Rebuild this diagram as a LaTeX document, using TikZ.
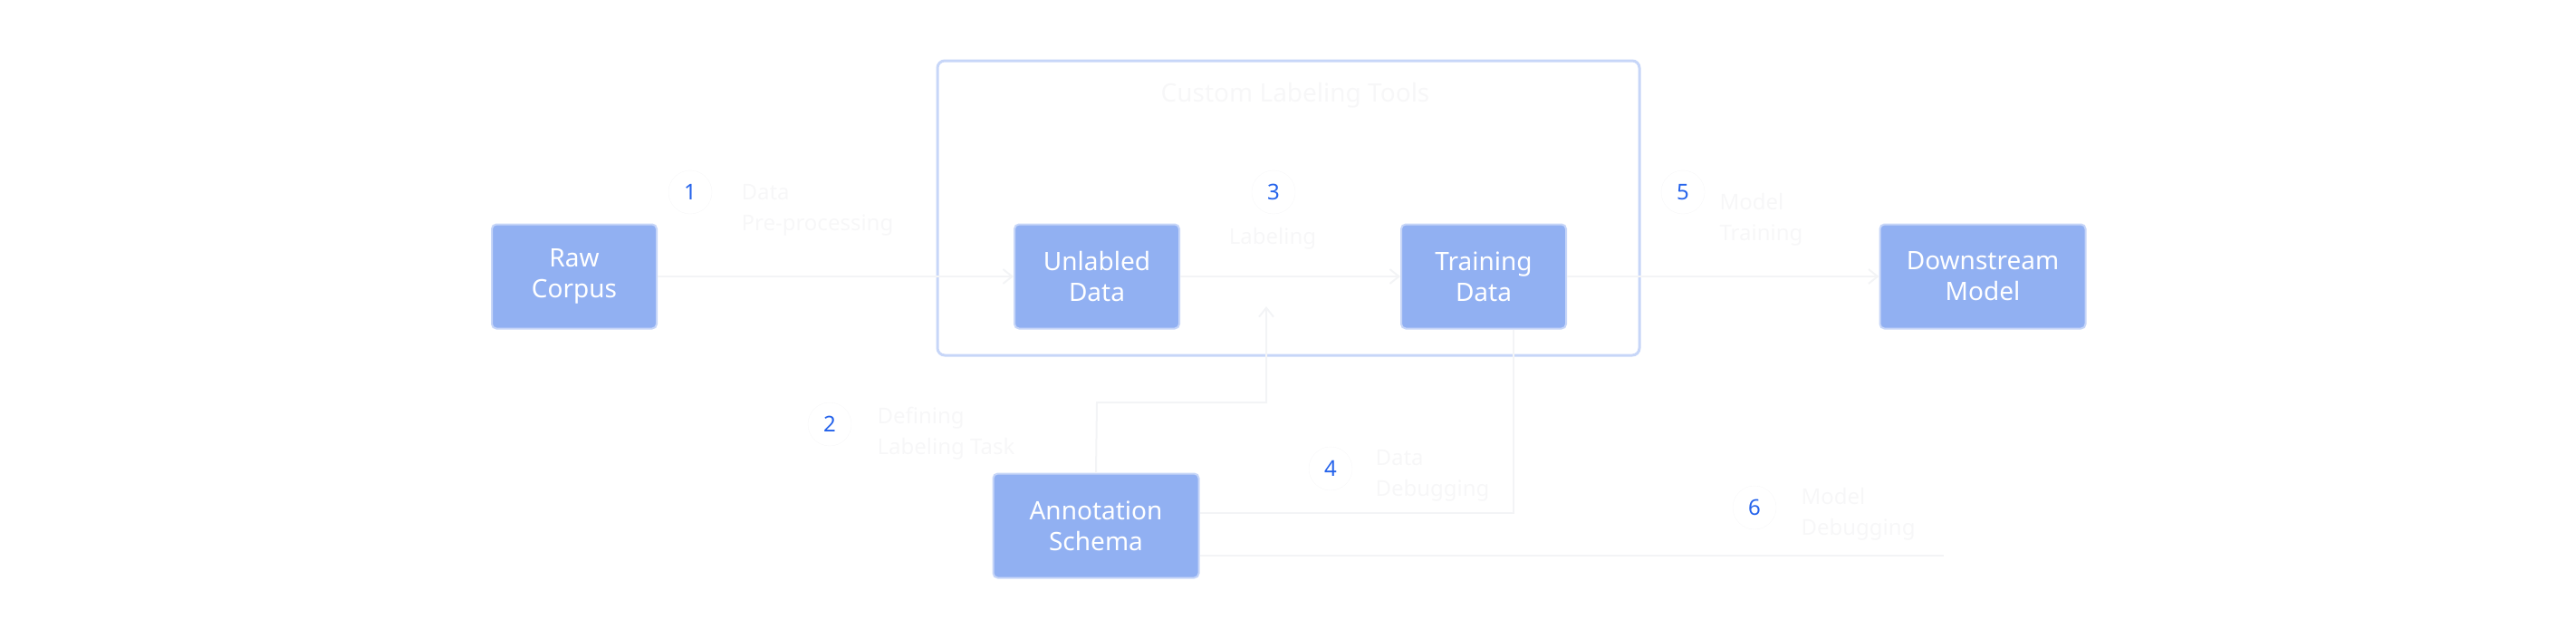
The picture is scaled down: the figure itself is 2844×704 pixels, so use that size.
\documentclass[tikz,border=0pt]{standalone}
\usepackage{fontspec}
\setmainfont{Noto Sans}
\usetikzlibrary{arrows.meta}
\definecolor{boxfill}{HTML}{91B0F2}
\definecolor{boxline}{HTML}{C7D6F8}
\definecolor{numblue}{HTML}{2563EB}
\definecolor{faint}{HTML}{F3F4F6}
\definecolor{fainttext}{HTML}{F7F7F8}
\begin{document}
\begin{tikzpicture}[x=1pt,y=-1pt,
  box/.style={draw=boxline,line width=2pt,fill=boxfill,rounded corners=5pt,minimum width=182pt,minimum height=115pt,text=white,font=\fontsize{28}{34}\selectfont,align=center},
  num/.style={text=numblue,font=\fontsize{24}{28}\selectfont,draw=fainttext,circle,minimum size=48pt},
  lab/.style={text=fainttext,font=\fontsize{24}{34}\selectfont,align=left,anchor=west},
  wire/.style={draw=faint,line width=2pt},
  arr/.style={wire,-{Straight Barb[length=10pt,width=16pt]}}]
\useasboundingbox (0,0) rectangle (2844,704);
\node[draw=boxline,line width=3pt,rounded corners=8pt,minimum width=775pt,minimum height=325pt] (frame) at (1422.5,229.5) {};
\node[text=fainttext,font=\fontsize{28}{34}\selectfont] (title) at (1430,105) {Custom Labeling Tools};
\node[box] (raw) at (634,305) {Raw\\Corpus};
\node[box] (unl) at (1211,305) {Unlabled\\Data};
\node[box] (trn) at (1638,305) {Training\\Data};
\node[box,minimum width=227pt] (down) at (2189,305) {Downstream\\Model};
\node[box,minimum width=227pt] (ann) at (1210,580) {Annotation\\Schema};
\coordinate (fl) at (frame.west |- raw);
\coordinate (fr) at (frame.east |- raw);
\coordinate (up) at (1398,338);
\coordinate (c1) at (1398,444);
\coordinate (c2) at (1211,444);
\coordinate (t1) at (1671,566);
\coordinate (t1a) at (ann.east |- t1);
\coordinate (m1) at (2146,613);
\coordinate (m0) at (ann.east |- m1);
\draw[arr] (raw) -- (fl) -- (unl);
\draw[arr] (unl) -- (trn);
\draw[arr] (trn) -- (fr) -- (down);
\draw[arr] (ann.north) -- (c2) -- (c1) -- (up);
\draw[wire] (trn.south -| t1) -- (t1) -- (t1a);
\draw[wire] (m0) -- (m1);
\node[num] (n1) at (762,212) {1};
\node[num] (n3) at (1406,212) {3};
\node[num] (n5) at (1858,212) {5};
\node[num] (n2) at (916,468) {2};
\node[num] (n4) at (1469,517) {4};
\node[num] (n6) at (1937,560) {6};
\node[lab] (l1) at (815,232) {Data\\Pre-processing};
\node[lab,anchor=center] (l3) at (1405,263) {Labeling};
\node[lab] (l5) at (1895,242) {Model\\Training};
\node[lab] (l2) at (965,478) {Defining\\Labeling Task};
\node[lab] (l4) at (1515,525) {Data\\Debugging};
\node[lab] (l6) at (1985,567) {Model\\Debugging};
\end{tikzpicture}
\end{document}
